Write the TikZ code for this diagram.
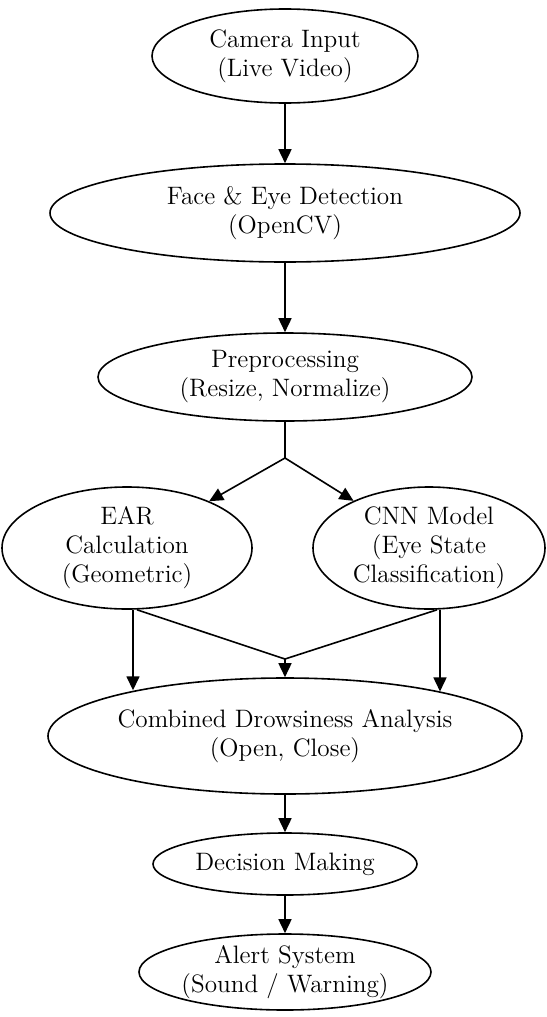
\documentclass[tikz,border=0pt]{standalone}
\usetikzlibrary{shapes.geometric,arrows.meta,calc}
\begin{document}
\begin{tikzpicture}[x=0.5pt,y=-0.5pt,
  ell/.style={draw, ellipse, line width=0.8pt, inner sep=0pt},
  lbl/.style={align=center, font=\fontsize{12.6}{14.5}\selectfont, inner sep=0pt},
  arr/.style={line width=0.8pt, -{Triangle[length=7pt,width=6.5pt]}},
  ln/.style={line width=0.8pt}]
\useasboundingbox (0,0) rectangle (546,1017);
% nodes
\node[ell, minimum width=133pt, minimum height=47pt] (cam) at (285,56) {};
\node[lbl] (camt) at (cam) {Camera Input\\(Live Video)};
\node[ell, minimum width=235pt, minimum height=49pt] (face) at (285,213) {};
\node[lbl] (facet) at (face) {Face \& Eye Detection\\(OpenCV)};
\node[ell, minimum width=187pt, minimum height=44pt] (pre) at (285,377) {};
\node[lbl] (pret) at (pre) {Preprocessing\\(Resize, Normalize)};
\node[ell, minimum width=125pt, minimum height=61pt] (ear) at (127,548) {};
\node[lbl] (eart) at (ear) {EAR\\Calculation\\(Geometric)};
\node[ell, minimum width=116pt, minimum height=61pt] (cnn) at (429,548) {};
\node[lbl] (cnnt) at (cnn) {CNN Model\\(Eye State\\Classification)};
\node[ell, minimum width=237pt, minimum height=58pt] (comb) at (285,736) {};
\node[lbl] (combt) at (comb) {Combined Drowsiness Analysis\\(Open, Close)};
\node[ell, minimum width=132pt, minimum height=31pt] (dec) at (285,864) {};
\node[lbl] (dect) at (dec) {Decision Making};
\node[ell, minimum width=146pt, minimum height=38pt] (alert) at (285,972) {};
\node[lbl] (alertt) at (alert) {Alert System\\(Sound / Warning)};
% connectors
\draw[arr] (cam.south) -- (face.north);
\draw[arr] (face.south) -- (pre.north);
\coordinate (j1) at (285,458);
\draw[ln] (pre.south) -- (j1);
\draw[arr] (j1) -- (ear);
\draw[arr] (j1) -- (cnn);
\coordinate (j2) at (285,659);
\draw[ln] ($(ear.south)+(10,0)$) -- (j2);
\draw[ln] ($(cnn.south)+(8,0)$) -- (j2);
\draw[arr] (j2) -- (comb.north);
\coordinate (e1) at ($(ear.south)+(6,0)$);
\draw[arr] (e1) -- (e1 |- comb.163.5);
\coordinate (c1) at ($(cnn.south)+(11,0)$);
\draw[arr] (c1) -- (c1 |- comb.16.2);
\draw[arr] (comb.south) -- (dec.north);
\draw[arr] (dec.south) -- (alert.north);
\end{tikzpicture}
\end{document}
